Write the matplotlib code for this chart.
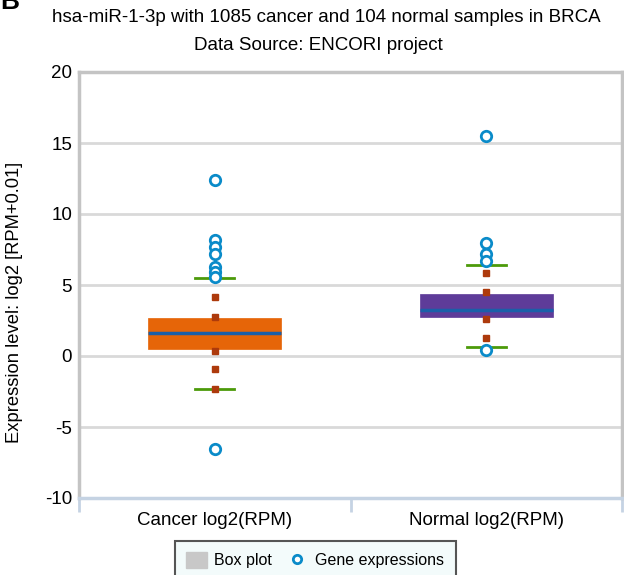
import numpy as np
import matplotlib.pyplot as plt
from matplotlib.patches import Patch
from matplotlib.lines import Line2D

plt.rcParams['font.family'] = ['Liberation Sans', 'DejaVu Sans']
plt.rcParams['axes.unicode_minus'] = False

# values
groups = ['Cancer log2(RPM)', 'Normal log2(RPM)']
box_colors = ['#e66508', '#5e3c99']
q1 = [0.51, 2.75]
med = [1.60, 3.22]
q3 = [2.65, 4.39]
whislo = [-2.35, 0.65]
whishi = [5.47, 6.41]
outliers = [
    [12.4, 8.17, 7.65, 7.15, 6.25, 5.89, 5.54, -6.57],
    [15.5, 7.98, 7.16, 6.71, 0.40],
]
extra_marks = [
    [4.13, 2.77, 0.37, -0.94, -2.30],
    [5.82, 4.49, 2.63, 1.29],
]

fig = plt.figure(figsize=(6.24, 5.75), dpi=100)
ax = fig.add_axes([79 / 624, 1 - 498 / 575, 543 / 624, 426 / 575])

stats = []
for i in range(len(groups)):
    stats.append({'med': med[i], 'q1': q1[i], 'q3': q3[i],
                  'whislo': whislo[i], 'whishi': whishi[i], 'fliers': []})

pos = np.arange(len(groups))
bp = ax.bxp(stats, positions=pos, widths=0.49, patch_artist=True,
            showfliers=False, zorder=3,
            boxprops=dict(linewidth=0.5),
            medianprops=dict(color='#1b5fa8', linewidth=2.5),
            whiskerprops=dict(linewidth=0),
            capprops=dict(color='#4c9a0a', linewidth=2),
            capwidths=0.145)
for patch, c in zip(bp['boxes'], box_colors):
    patch.set_facecolor(c)
    patch.set_edgecolor(c)

for i in range(len(groups)):
    ax.plot([pos[i]] * len(extra_marks[i]), extra_marks[i], 's', color='#ad3a0c',
            markersize=4, zorder=4, linestyle='none')
    ax.plot([pos[i]] * len(outliers[i]), outliers[i], 'o', markerfacecolor='white',
            markeredgecolor='#0a8bc9', markeredgewidth=2, markersize=7.5,
            zorder=5, linestyle='none')

ax.set_xlim(-0.5, 1.5)
ax.set_ylim(-10, 20)
ax.set_yticks(np.arange(-10, 21, 5))
ax.set_xticks(pos)
ax.set_xticklabels(groups, fontsize=13.5)
ax.tick_params(axis='x', length=0, pad=10)
ax.tick_params(axis='y', length=0, labelsize=13.5, pad=5)
ax.set_xticks([-0.5, 0.5, 1.5], minor=True)
ax.tick_params(axis='x', which='minor', length=10, width=2, color='#c5d3e3')

ax.yaxis.grid(True, color='#d9d9d9', linewidth=2)
ax.set_axisbelow(True)
for s in ['left', 'top', 'right']:
    ax.spines[s].set_color('#c4c4c4')
    ax.spines[s].set_linewidth(2.5)
ax.spines['bottom'].set_color('#c5d3e3')
ax.spines['bottom'].set_linewidth(2.5)

ax.set_ylabel('Expression level: log2 [RPM+0.01]', fontsize=13.2)
ax.yaxis.set_label_coords(-56 / 543, 0.46)

fig.text(0.523, 1 - 18 / 575, 'hsa-miR-1-3p with 1085 cancer and 104 normal samples in BRCA',
         ha='center', va='center', fontsize=13.5)
fig.text(0.51, 1 - 45 / 575, 'Data Source: ENCORI project',
         ha='center', va='center', fontsize=13.5)
fig.text(0.0, 1.018, 'B', fontsize=19, fontweight='bold', va='top', ha='left')

handles = [Patch(facecolor='#c8c8c8', edgecolor='#c8c8c8'),
           Line2D([], [], marker='o', linestyle='none', markerfacecolor='white',
                  markeredgecolor='#0a8bc9', markeredgewidth=2, markersize=6)]
leg = fig.legend(handles, ['Box plot', 'Gene expressions'], loc='upper center',
                 bbox_to_anchor=(0.505, 1 - 541 / 575), ncol=2, fontsize=11.5,
                 fancybox=False, framealpha=1, edgecolor='#555555',
                 facecolor='#f3fbfb', handlelength=1.3, handleheight=1.1,
                 columnspacing=0.9, handletextpad=0.5, borderpad=0.7,
                 borderaxespad=0)
leg.get_frame().set_linewidth(1.5)

fig.savefig('out.png', dpi=100)
